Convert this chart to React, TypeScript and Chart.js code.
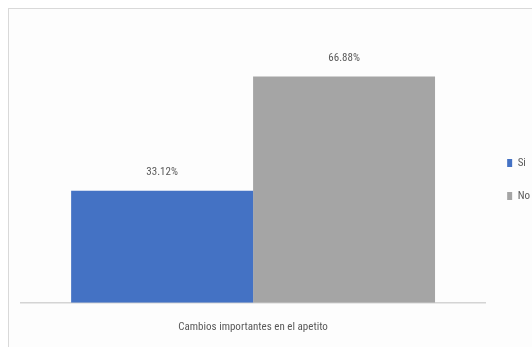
import React, { useEffect, useRef } from "react";
import { Chart, registerables } from "chart.js";

Chart.register(...registerables);

const categories = ["Cambios importantes en el apetito"];
const seriesNames = ["Si", "No"];
const siValues = [33.12];
const noValues = [66.88];
const seriesColors = ["#4472C4", "#A5A5A5"];

const FONT = "'Roboto Condensed', 'DejaVu Sans Condensed', sans-serif";
const TEXT = "#595959";

const valueLabels = {
  id: "valueLabels",
  afterDatasetsDraw(chart: any) {
    const ctx = chart.ctx;
    ctx.save();
    ctx.font = `11px ${FONT}`;
    ctx.fillStyle = TEXT;
    ctx.textAlign = "center";
    ctx.textBaseline = "middle";
    chart.data.datasets.forEach((ds: any, i: number) => {
      const meta = chart.getDatasetMeta(i);
      meta.data.forEach((el: any, j: number) => {
        const v = ds.data[j];
        ctx.fillText(v.toFixed(2) + "%", el.x, el.y - 18);
      });
    });
    ctx.restore();
  },
};

export default function App() {
  const ref = useRef<HTMLCanvasElement>(null);
  useEffect(() => {
    if (!ref.current) return;
    const chart = new Chart(ref.current, {
      type: "bar",
      data: {
        labels: categories,
        datasets: [
          { label: seriesNames[0], data: siValues, backgroundColor: seriesColors[0] },
          { label: seriesNames[1], data: noValues, backgroundColor: seriesColors[1] },
        ],
      },
      options: {
        animation: false,
        responsive: true,
        maintainAspectRatio: false,
        layout: { padding: { top: 23, left: 12, bottom: -5, right: -8 } },
        datasets: { bar: { categoryPercentage: 0.784, barPercentage: 1 } },
        scales: {
          x: {
            grid: { display: false, drawTicks: false },
            border: { display: true, color: "#d4d4d4", width: 1.5 },
            ticks: { color: TEXT, font: { family: FONT, size: 11 }, padding: 18 },
          },
          y: { display: false, min: 0, max: 80 },
        },
        plugins: {
          tooltip: { enabled: false },
          legend: {
            position: "right",
            fullSize: false,
            title: { display: true, text: " ", font: { size: 10 }, padding: { top: 6, bottom: 6.4 } },
            labels: {
              boxWidth: 5,
              boxHeight: 8,
              padding: 22,
              color: TEXT,
              font: { family: FONT, size: 11 },
            },
          },
        },
      },
      plugins: [valueLabels],
    });
    return () => chart.destroy();
  }, []);
  return (
    <div
      style={{
        position: "fixed",
        left: 8,
        top: 8,
        width: 524,
        height: 339,
        boxSizing: "border-box",
        borderTop: "1px solid #d9d9d9",
        borderLeft: "1px solid #d9d9d9",
        background: "#fdfdfd",
      }}
    >
      <canvas ref={ref} />
    </div>
  );
}
